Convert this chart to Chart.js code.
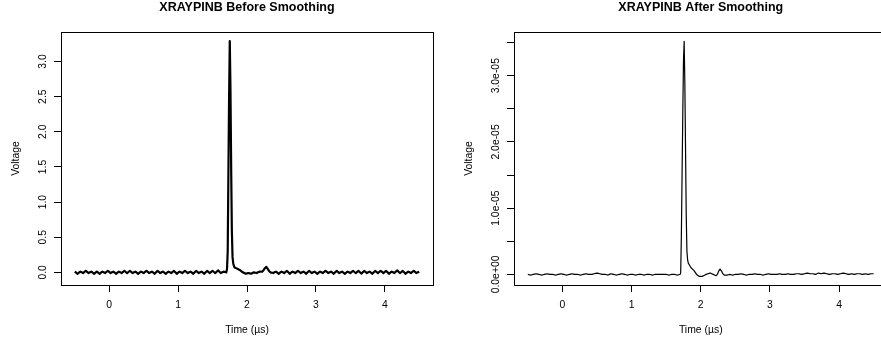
<!DOCTYPE html>
<html>
<head>
<meta charset="utf-8">
<script src="https://cdn.jsdelivr.net/npm/chart.js@4.4.1/dist/chart.umd.min.js"></script>
<style>
  html, body { margin: 0; padding: 0; background: #fff; overflow: hidden; }
  #wrap { position: relative; width: 881px; height: 344px; overflow: hidden; }
  canvas { position: absolute; top: 0; }
  #chartBefore { left: 0; }
  #chartAfter { left: 440px; }
</style>
</head>
<body>
<div id="wrap">
  <canvas id="chartBefore" width="440" height="344"></canvas>
  <canvas id="chartAfter" width="460" height="344"></canvas>
</div>
<script>
// Time axis (µs)
const times = [
  -0.50,-0.46,-0.42,-0.38,-0.34,-0.30,-0.26,-0.22,-0.18,-0.14,-0.10,-0.06,-0.02,0.02,0.06,0.10,0.14,0.18,0.22,0.26,0.30,0.34,0.38,0.42,0.46,
  0.50,0.54,0.58,0.62,0.66,0.70,0.74,0.78,0.82,0.86,0.90,0.94,0.98,1.02,1.06,1.10,1.14,1.18,1.22,1.26,1.30,1.34,1.38,1.42,1.46,
  1.50,1.54,1.58,1.62,1.66,1.70,1.71,1.72,1.73,1.74,1.75,1.76,1.77,1.78,1.79,1.80,1.81,1.82,
  1.86,1.90,1.94,1.98,2.02,2.06,2.10,2.14,2.18,2.22,2.24,2.26,2.28,2.30,2.32,2.34,2.38,
  2.42,2.46,2.50,2.54,2.58,2.62,2.66,2.70,2.74,2.78,2.82,2.86,2.90,2.94,2.98,3.02,3.06,3.10,3.14,3.18,3.22,3.26,3.30,3.34,3.38,
  3.42,3.46,3.50,3.54,3.58,3.62,3.66,3.70,3.74,3.78,3.82,3.86,3.90,3.94,3.98,4.02,4.06,4.10,4.14,4.18,4.22,4.26,4.30,4.34,4.38,
  4.42,4.46,4.50
];

// Raw signal (V)
const voltageBefore = [
  0.01,-0.02,0.01,-0.01,0.02,-0.01,0.01,-0.02,0.01,-0.02,0.01,-0.01,0.02,-0.01,0.01,-0.02,0.01,-0.01,0.02,-0.01,0.02,-0.01,0.01,-0.02,0.01,
  -0.01,0.02,-0.01,0.01,-0.02,0.02,-0.01,0.01,-0.02,0.01,-0.01,0.02,-0.02,0.01,-0.01,0.02,-0.01,0.01,-0.02,0.02,-0.01,0.01,-0.02,0.02,-0.01,
  0.02,-0.01,0.03,-0.01,0.01,0.00,0.05,0.30,1.40,2.50,3.29,2.60,1.50,0.60,0.22,0.13,0.09,0.07,
  0.05,0.03,0.00,-0.02,-0.01,-0.02,0.00,-0.01,0.01,0.01,0.03,0.06,0.08,0.05,0.02,0.00,-0.01,
  0.01,-0.02,0.01,-0.01,0.02,-0.02,0.01,-0.01,0.02,-0.01,0.01,-0.02,0.02,-0.01,0.01,-0.02,0.01,-0.01,0.02,-0.01,0.01,-0.02,0.02,-0.01,0.01,
  -0.02,0.01,-0.01,0.02,-0.01,0.02,-0.02,0.02,-0.01,0.01,-0.02,0.02,-0.01,0.02,-0.01,0.02,-0.02,0.01,-0.01,0.03,-0.01,0.02,-0.02,0.01,-0.01,
  0.02,-0.01,0.01
];

// Smoothed signal
const voltageAfter = [
  0e-5,-0.01e-5,0e-5,0.01e-5,0e-5,-0.01e-5,0e-5,0.01e-5,0e-5,0e-5,-0.01e-5,0e-5,0.01e-5,0e-5,-0.01e-5,0e-5,0.01e-5,0e-5,0e-5,-0.01e-5,0e-5,0.01e-5,0e-5,0e-5,0.01e-5,
  0.02e-5,0.01e-5,0e-5,0e-5,-0.01e-5,0.01e-5,0e-5,-0.01e-5,0e-5,0.01e-5,0e-5,-0.01e-5,0e-5,0e-5,-0.01e-5,0e-5,0e-5,-0.01e-5,0e-5,0e-5,-0.01e-5,0e-5,0e-5,0e-5,0e-5,
  0e-5,-0.01e-5,0e-5,0e-5,-0.01e-5,0e-5,0.02e-5,0.60e-5,1.50e-5,2.40e-5,3.20e-5,3.52e-5,2.90e-5,1.90e-5,0.90e-5,0.35e-5,0.22e-5,0.17e-5,
  0.10e-5,0.06e-5,0e-5,-0.03e-5,-0.03e-5,-0.01e-5,0.01e-5,0.02e-5,0e-5,-0.02e-5,0e-5,0.05e-5,0.08e-5,0.05e-5,0.01e-5,-0.01e-5,-0.01e-5,
  0e-5,-0.01e-5,0e-5,0e-5,0.01e-5,0e-5,-0.01e-5,0e-5,0e-5,0.01e-5,0e-5,0e-5,-0.01e-5,0e-5,0.01e-5,0e-5,0e-5,0e-5,0.01e-5,0e-5,0e-5,0.01e-5,0e-5,0e-5,0.01e-5,
  0.01e-5,0e-5,0.01e-5,0.02e-5,0.01e-5,0.01e-5,0e-5,0.02e-5,0.01e-5,0.02e-5,0.01e-5,0e-5,0.01e-5,0.01e-5,0e-5,0.01e-5,0.02e-5,0.01e-5,0e-5,0.01e-5,0e-5,0.01e-5,0.01e-5,0e-5,0.01e-5,
  0e-5,0.01e-5,0.01e-5
];

// Ticks and labels
const xTicks = [0, 1, 2, 3, 4];
const xTickLabels = ["0", "1", "2", "3", "4"];
const yTicksBefore = [0, 0.5, 1.0, 1.5, 2.0, 2.5, 3.0];
const yLabelsBefore = ["0.0", "0.5", "1.0", "1.5", "2.0", "2.5", "3.0"];
const yTicksAfter = [0, 0.5e-5, 1.0e-5, 1.5e-5, 2.0e-5, 2.5e-5, 3.0e-5, 3.5e-5];
const yLabelsAfter = ["0.0e+00", "", "1.0e-05", "", "2.0e-05", "", "3.0e-05", ""];

const FONT = '"Liberation Sans", Arial, Helvetica, sans-serif';

// R-style box, title, axis titles and rotated y labels
function rStyle(cfg) {
    return {
        id: "rStyle",
        afterDraw(chart) {
            const ctx = chart.ctx;
            const a = chart.chartArea;
            const yScale = chart.scales.y;
            const cx = (a.left + a.right) / 2;

            ctx.save();
            ctx.strokeStyle = "#000";
            ctx.lineWidth = 1;
            ctx.strokeRect(Math.round(a.left) + 0.5, Math.round(a.top) + 0.5,
                Math.round(a.right - a.left), Math.round(a.bottom - a.top));

            ctx.fillStyle = "#000";
            ctx.textAlign = "center";
            ctx.textBaseline = "alphabetic";

            ctx.font = "bold 12.5px " + FONT;
            ctx.fillText(cfg.title, cx, 11);

            ctx.font = "10.4px " + FONT;
            ctx.fillText("Time (µs)", cx, 333);

            cfg.yTicks.forEach((v, i) => {
                if (!cfg.yLabels[i]) return;
                ctx.save();
                ctx.translate(a.left - 15.3, yScale.getPixelForValue(v));
                ctx.rotate(-Math.PI / 2);
                ctx.fillText(cfg.yLabels[i], 0, 0);
                ctx.restore();
            });

            ctx.save();
            ctx.translate(a.left - 42, (a.top + a.bottom) / 2);
            ctx.rotate(-Math.PI / 2);
            ctx.fillText("Voltage", 0, 0);
            ctx.restore();

            ctx.restore();
        }
    };
}

function makePanel(id, values, cfg) {
    const puntos = times.map((t, i) => ({ x: t, y: values[i] }));
    const grid = { drawOnChartArea: false, drawTicks: true, tickLength: 7, color: "#000", lineWidth: 1 };

    return new Chart(document.getElementById(id), {
        type: "line",
        data: {
            datasets: [{
                data: puntos,
                borderColor: "#000",
                borderWidth: cfg.lineWidth,
                borderJoinStyle: "round",
                pointRadius: 0,
                // tiny tension: avoids the pixel-merging fast path, lines stay straight
                tension: 0.001
            }]
        },
        options: {
            responsive: false,
            animation: false,
            events: [],
            layout: { padding: { left: 0, right: cfg.padRight, top: 32, bottom: 0 } },
            plugins: { legend: { display: false }, tooltip: { enabled: false } },
            scales: {
                x: {
                    type: "linear",
                    min: -0.7,
                    max: 4.7,
                    afterBuildTicks: s => { s.ticks = xTicks.map(v => ({ value: v })); },
                    afterFit: s => { s.height = 59; },
                    ticks: {
                        callback: (v, i) => xTickLabels[i],
                        color: "#000",
                        font: { family: FONT, size: 10.4 },
                        padding: 7,
                        maxRotation: 0,
                        autoSkip: false
                    },
                    grid: grid,
                    border: { display: false }
                },
                y: {
                    type: "linear",
                    min: cfg.yMin,
                    max: cfg.yMax,
                    afterBuildTicks: s => { s.ticks = cfg.yTicks.map(v => ({ value: v })); },
                    afterFit: s => { s.width = cfg.yWidth; },
                    ticks: { display: false },
                    grid: grid,
                    border: { display: false }
                }
            }
        },
        plugins: [rStyle(cfg)]
    });
}

makePanel("chartBefore", voltageBefore, {
    title: "XRAYPINB Before Smoothing",
    yTicks: yTicksBefore,
    yLabels: yLabelsBefore,
    yMin: -0.18,
    yMax: 3.42,
    yWidth: 61,
    padRight: 7,
    lineWidth: 2.2
});

makePanel("chartAfter", voltageAfter, {
    title: "XRAYPINB After Smoothing",
    yTicks: yTicksAfter,
    yLabels: yLabelsAfter,
    yMin: -0.16e-5,
    yMax: 3.66e-5,
    yWidth: 74,
    padRight: 12.5,
    lineWidth: 1.2
});
</script>
</body>
</html>
